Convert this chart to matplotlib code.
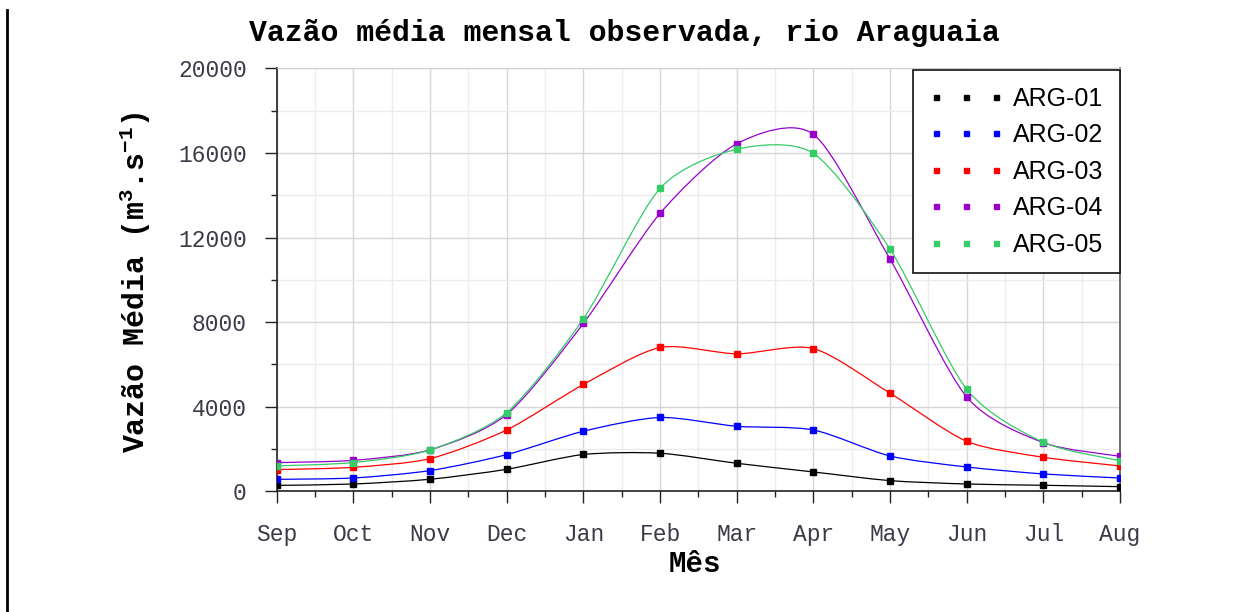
import numpy as np
import matplotlib
matplotlib.use("Agg")
import matplotlib.pyplot as plt
from matplotlib.path import Path
from matplotlib.patches import PathPatch
from matplotlib.lines import Line2D
from matplotlib.ticker import MultipleLocator

# ---------------- data ----------------
months = ["Sep", "Oct", "Nov", "Dec", "Jan", "Feb", "Mar", "Apr", "May", "Jun", "Jul", "Aug"]
series_names = ["ARG-01", "ARG-02", "ARG-03", "ARG-04", "ARG-05"]
arg01 = [280, 345, 570, 1040, 1740, 1800, 1325, 915, 505, 345, 285, 220]
arg02 = [565, 630, 980, 1735, 2840, 3490, 3075, 2900, 1670, 1150, 820, 630]
arg03 = [1025, 1135, 1545, 2900, 5050, 6800, 6500, 6750, 4640, 2365, 1610, 1200]
arg04 = [1355, 1465, 1960, 3630, 7935, 13140, 16430, 16880, 10980, 4460, 2300, 1655]
arg05 = [1200, 1360, 1955, 3720, 8150, 14320, 16170, 15980, 11450, 4825, 2320, 1450]
colors = ["#000000", "#0000ff", "#ff0000", "#9900cc", "#33cc66"]

title = "Vazão média mensal observada, rio Araguaia"
ylabel = r"Vazão Média (m$^{3}$.s$^{-1}$)"
xlabel = "Mês"

plt.rcParams["mathtext.fontset"] = "custom"
plt.rcParams["mathtext.rm"] = "Liberation Mono:bold"
plt.rcParams["mathtext.bf"] = "Liberation Mono:bold"
plt.rcParams["mathtext.it"] = "Liberation Mono:bold"
plt.rcParams["mathtext.default"] = "bf"

W, H = 1248, 612
fig = plt.figure(figsize=(W / 100, H / 100), dpi=100)
ax = fig.add_axes([276.7 / W, 1 - 491.3 / H, (1120 - 276.7) / W, (491.3 - 68.3) / H])

x = np.arange(len(months))


def smooth_path(xs, ys, t=0.13):
    xs = np.asarray(xs, float)
    ys = np.asarray(ys, float)
    n = len(xs)
    verts = [(xs[0], ys[0])]
    codes = [Path.MOVETO]
    for i in range(n - 1):
        i0 = max(i - 1, 0)
        i3 = min(i + 2, n - 1)
        c1 = (xs[i] + (xs[i + 1] - xs[i0]) * t, ys[i] + (ys[i + 1] - ys[i0]) * t)
        c2 = (xs[i + 1] - (xs[i3] - xs[i]) * t, ys[i + 1] - (ys[i3] - ys[i]) * t)
        verts += [c1, c2, (xs[i + 1], ys[i + 1])]
        codes += [Path.CURVE4] * 3
    return Path(verts, codes)


all_series = [arg01, arg02, arg03, arg04, arg05]
for vals, col, name in zip(all_series, colors, series_names):
    patch = PathPatch(smooth_path(x, vals), facecolor="none", edgecolor=col,
                      lw=0.9, transform=ax.transData, zorder=3)
    ax.add_patch(patch)
    ax.plot(x, vals, linestyle="none", marker="s", markersize=4.3,
            color=col, zorder=4)

ax.set_xlim(0, len(months) - 1)
ax.set_ylim(0, 20000)
ax.set_xticks(x)
ax.set_xticklabels(months)
ax.xaxis.set_minor_locator(MultipleLocator(0.5))
ax.yaxis.set_major_locator(MultipleLocator(4000))
ax.yaxis.set_minor_locator(MultipleLocator(2000))

ax.grid(which="major", color="#d6d6d6", lw=1.0, zorder=0)
ax.grid(which="minor", color="#ececec", lw=1.0, zorder=0)
ax.set_axisbelow(True)

for lab in ax.get_xticklabels() + ax.get_yticklabels():
    lab.set_fontfamily("Liberation Mono")
    lab.set_fontsize(16.5)
    lab.set_color("#3a3a48")

ax.tick_params(axis="both", which="major", direction="out", length=8.5, width=1.0,
               color="#222222")
ax.tick_params(axis="both", which="minor", direction="out", length=4.5, width=1.0,
               color="#222222")
ax.tick_params(axis="x", which="major", pad=14)
ax.tick_params(axis="y", which="major", pad=13)

ax.spines["left"].set_color("#222222")
ax.spines["bottom"].set_color("#222222")
ax.spines["left"].set_linewidth(1.2)
ax.spines["bottom"].set_linewidth(1.2)
ax.spines["top"].set_color("#d0d0d0")
ax.spines["right"].set_color("#555555")
ax.spines["right"].set_linewidth(1.2)

handles = [Line2D([], [], linestyle="none", marker="s", markersize=3.6, color=c)
           for c in colors]
leg = ax.legend(handles, series_names, loc="upper right", bbox_to_anchor=(1.0, 0.995),
                numpoints=3, handlelength=3.0, handletextpad=0.38, borderpad=0.65,
                labelspacing=0.5, borderaxespad=0.0, fancybox=False, framealpha=1,
                edgecolor="#111111", prop={"family": "Liberation Sans", "size": 18})
leg.get_frame().set_linewidth(1.2)

fig.text(0.5, 1 - 33 / H, title, ha="center", va="center",
         fontfamily="Liberation Mono", fontweight="bold", fontsize=21.5)
fig.text(135.8 / W, 1 - 282 / H, ylabel, ha="center", va="center", rotation=90,
         fontfamily="Liberation Mono", fontweight="bold", fontsize=21.5)
fig.text(695 / W, 1 - 564 / H, xlabel, ha="center", va="center",
         fontfamily="Liberation Mono", fontweight="bold", fontsize=21)

fig.add_artist(Line2D([7.3 / W, 7.3 / W], [0, 1 - 10 / H], color="black", lw=2.0,
                      transform=fig.transFigure))

fig.savefig("out.png", dpi=100)
